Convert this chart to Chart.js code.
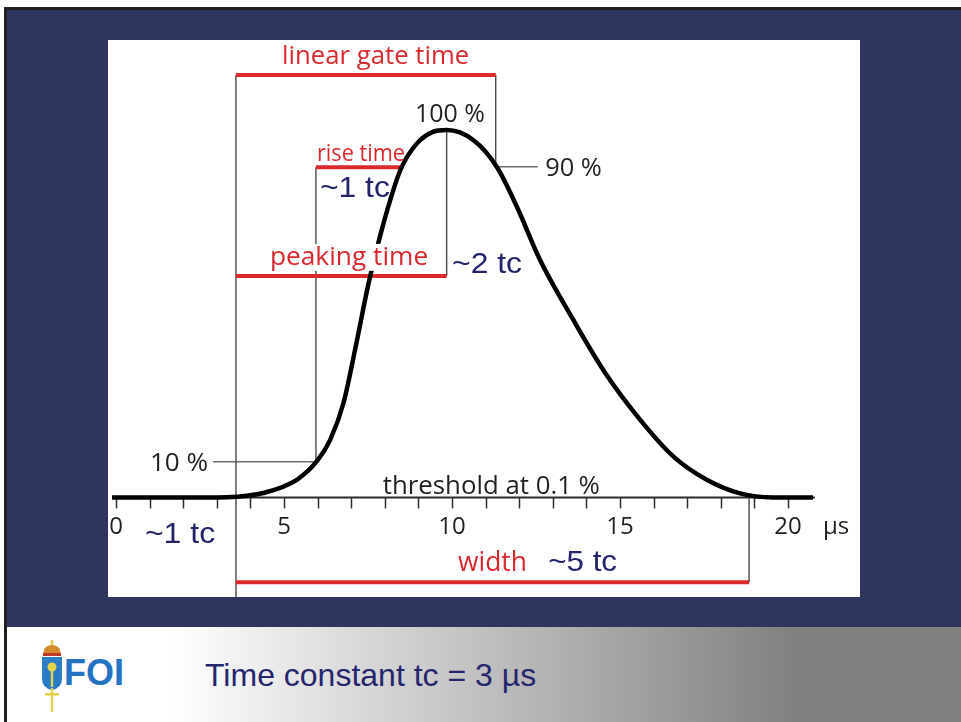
<!DOCTYPE html>
<html>
<head>
<meta charset="utf-8">
<script src="https://cdn.jsdelivr.net/npm/chart.js@4.4.1/dist/chart.umd.min.js"></script>
<style>
  html, body { margin: 0; padding: 0; background: #ffffff; }
  body { width: 961px; height: 722px; position: relative; overflow: hidden; }
  .frameTop { position: absolute; left: 4px; top: 7px; width: 957px; height: 3px; background: #231f20; }
  .frameLeft { position: absolute; left: 4px; top: 7px; width: 3px; height: 715px; background: #231f20; }
  .slide { position: absolute; left: 7px; top: 10px; width: 954px; height: 617px; background: #2e3660; }
  .footer { position: absolute; left: 7px; top: 627px; width: 954px; height: 95px;
            background: linear-gradient(to right, #ffffff 0px, #ffffff 165px, #808080 790px); }
  #plot { position: absolute; left: 108px; top: 40px; width: 752px; height: 557px; background: #ffffff; }
  .foi { position: absolute; left: 64px; top: 655px; font: bold 36px "Liberation Sans", Arial, sans-serif;
         line-height: 36px; color: #2474c3; }
  .caption { position: absolute; left: 205px; top: 659px; font: 32px "Liberation Sans", Arial, sans-serif;
             line-height: 32px; color: #26266e; }
  .emblem { position: absolute; left: 40px; top: 640px; }
</style>
</head>
<body>
<div class="slide"></div>
<div class="frameTop"></div>
<div class="frameLeft"></div>
<div id="plot"><canvas id="pulse" width="752" height="557"></canvas></div>
<div class="footer"></div>
<svg class="emblem" width="24" height="74" viewBox="0 0 24 74">
  <rect x="10.8" y="0" width="2.4" height="6" fill="#e8c840"/>
  <path d="M3 16 Q3 5 12 5 Q21 5 21 16 Z" fill="#d4892a"/>
  <rect x="3" y="13" width="18" height="3" fill="#c0392b"/>
  <path d="M2 17 H22 V38 Q22 48 12 50 Q2 48 2 38 Z" fill="#2a7cc6"/>
  <circle cx="12" cy="27" r="4.5" fill="#e3d34a"/>
  <rect x="10.8" y="27" width="2.4" height="20" fill="#e3d34a"/>
  <rect x="5" y="53" width="14" height="2.5" fill="#e3d34a"/>
  <rect x="10.8" y="48" width="2.4" height="24" fill="#e3d34a"/>
</svg>
<div class="foi">FOI</div>
<div class="caption">Time constant tc = 3 µs</div>

<script>
// Impulsform: tiempo (µs) y nivel relativo (1 = 100 %)
const pulseTime  = [-0.12, 1.0, 2.0, 3.0, 3.59, 4.38, 5.38, 5.99, 6.37, 6.77, 7.11, 7.51, 7.86, 8.30, 8.50,
                    8.95, 9.43, 9.84, 10.63, 11.33, 11.93, 12.62, 13.61, 14.60, 15.60, 16.59, 17.58, 18.57, 19.55, 20.74];
const pulseLevel = [0, 0, 0, 0, 0.002, 0.012, 0.048, 0.100, 0.156, 0.257, 0.400, 0.580, 0.712, 0.850, 0.899,
                    0.963, 0.995, 1.0, 0.973, 0.900, 0.791, 0.646, 0.483, 0.333, 0.211, 0.111, 0.048, 0.011, 0.0, 0.0];

// Eje de tiempo
const axisStart = -0.12;
const axisEnd = 20.8;
const tickValues = [0, 1, 2, 3, 4, 5, 6, 7, 8, 9, 10, 11, 12, 13, 14, 15, 16, 17, 18, 19, 20];
const tickLabels = [0, 5, 10, 15, 20];
const unitLabel = 'µs';

// Barras rojas (inicio, fin, nivel)
const barNames = ['linear gate time', 'rise time', 'peaking time', 'width'];
const barFrom  = [3.57, 5.95, 3.57, 3.57];
const barTo    = [11.3, 8.55, 9.84, 18.84];
const barLevel = [1.15, 0.899, 0.603, -0.231];

// Líneas guía grises: [t1, v1, t2, v2]
const guideLines = [
    [3.57, 1.15, 3.57, -0.30],
    [11.3, 1.15, 11.3, 0.90],
    [5.95, 0.899, 5.95, 0.097],
    [9.84, 1.0, 9.84, 0.603],
    [18.84, 0.0, 18.84, -0.231]
];
const levelMarks = [
    [11.3, 0.90, 12.55, 0.90],
    [2.89, 0.097, 5.95, 0.097]
];

// Textos: texto, t izquierda, t derecha, nivel de la línea base, estilo
const labelText  = ['linear gate time', 'rise time', 'peaking time', 'width', '100 %', '90 %', '10 %',
                    'threshold at 0.1 %', '~1 tc', '~2 tc', '~1 tc', '~5 tc'];
const labelLeft  = [4.94, 5.98, 4.58, 10.18, 8.90, 12.77, 1.01, 7.94, 6.07, 10.00, 0.86, 12.86];
const labelRight = [10.51, 8.60, 9.29, 12.23, 10.98, 14.46, 2.74, 14.40, 8.15, 12.08, 2.95, 14.91];
const labelBase  = [1.18, 0.917, 0.633, -0.201, 1.023, 0.875, 0.072, 0.0095, 0.818, 0.611, -0.124, -0.201];
const labelKind  = ['red', 'redSmall', 'redClear', 'redBig', 'dark', 'dark', 'dark', 'dark',
                    'navy', 'navy', 'navy', 'navyBig'];

// Rango visible de las escalas
const X_MIN = -0.238, X_MAX = 22.14;
const Y_MIN = -0.271, Y_MAX = 1.245;

const estilos = {
    red:      { font: '26px "Open Sans", sans-serif', color: '#d9282e' },
    redSmall: { font: '24px "Open Sans", sans-serif', color: '#d9282e' },
    redClear: { font: '26px "Open Sans", sans-serif', color: '#d9282e', clear: true },
    redBig:   { font: '28px "Open Sans", sans-serif', color: '#d9282e' },
    dark:     { font: '25px "Open Sans", sans-serif', color: '#231f20' },
    navy:     { font: '29px "Liberation Sans", Arial, sans-serif', color: '#24246c' },
    navyBig:  { font: '30px "Liberation Sans", Arial, sans-serif', color: '#24246c' }
};

function segmento(p, color, ancho, orden) {
    return {
        data: [{ x: p[0], y: p[1] }, { x: p[2], y: p[3] }],
        showLine: true, borderColor: color, borderWidth: ancho,
        pointRadius: 0, order: orden
    };
}

const datasets = [{
    data: pulseTime.map((t, i) => ({ x: t, y: pulseLevel[i] })),
    showLine: true,
    borderColor: '#000000',
    borderWidth: 4.5,
    cubicInterpolationMode: 'monotone',
    pointRadius: 0,
    order: 0
}];
barNames.forEach((n, i) => datasets.push(segmento([barFrom[i], barLevel[i], barTo[i], barLevel[i]], '#dc2a2c', 4, 1)));
guideLines.forEach(g => datasets.push(segmento(g, '#4a4a4a', 1.4, 2)));
levelMarks.forEach(g => datasets.push(segmento(g, '#6e6e6e', 1.4, 2)));

// Eje con marcas y textos
const pluginEje = {
    id: 'ejeTiempo',
    beforeDatasetsDraw(chart) {
        const { ctx, scales: { x, y } } = chart;
        const y0 = y.getPixelForValue(0);
        ctx.save();
        ctx.strokeStyle = '#2b2b2b';
        ctx.lineWidth = 2;
        ctx.beginPath();
        ctx.moveTo(x.getPixelForValue(axisStart), y0);
        ctx.lineTo(x.getPixelForValue(axisEnd), y0);
        ctx.stroke();
        ctx.lineWidth = 1.5;
        tickValues.forEach(t => {
            const px = Math.round(x.getPixelForValue(t)) + 0.5;
            ctx.beginPath();
            ctx.moveTo(px, y0);
            ctx.lineTo(px, y0 + 11);
            ctx.stroke();
        });
        ctx.restore();
    },
    afterDatasetsDraw(chart) {
        const { ctx, scales: { x, y } } = chart;
        ctx.save();
        ctx.textBaseline = 'alphabetic';
        // números del eje
        ctx.font = '24px "Open Sans", sans-serif';
        ctx.fillStyle = '#231f20';
        ctx.textAlign = 'center';
        const yb = y.getPixelForValue(-0.099);
        tickLabels.forEach(t => ctx.fillText(String(t), x.getPixelForValue(t), yb));
        ctx.textAlign = 'left';
        ctx.fillText(unitLabel, x.getPixelForValue(21.04), yb);
        // etiquetas ajustadas a su ancho
        labelText.forEach((txt, i) => {
            const st = estilos[labelKind[i]];
            const px0 = x.getPixelForValue(labelLeft[i]);
            const px1 = x.getPixelForValue(labelRight[i]);
            const py = y.getPixelForValue(labelBase[i]);
            ctx.font = st.font;
            const m = ctx.measureText(txt);
            const k = (px1 - px0) / m.width;
            if (st.clear) {
                ctx.fillStyle = '#ffffff';
                ctx.fillRect(px0 - 2, py - m.actualBoundingBoxAscent - 2, px1 - px0 + 4,
                             m.actualBoundingBoxAscent + m.actualBoundingBoxDescent + 2);
            }
            ctx.save();
            ctx.translate(px0, py);
            ctx.scale(k, 1);
            ctx.fillStyle = st.color;
            ctx.textAlign = 'left';
            ctx.fillText(txt, 0, 0);
            ctx.restore();
        });
        ctx.restore();
    }
};

new Chart(document.getElementById('pulse').getContext('2d'), {
    type: 'scatter',
    data: { datasets },
    options: {
        responsive: false,
        animation: false,
        devicePixelRatio: 1,
        layout: { padding: 0 },
        plugins: { legend: { display: false }, tooltip: { enabled: false } },
        scales: {
            x: { type: 'linear', min: X_MIN, max: X_MAX, display: false },
            y: { type: 'linear', min: Y_MIN, max: Y_MAX, display: false }
        }
    },
    plugins: [pluginEje]
});
</script>
</body>
</html>
